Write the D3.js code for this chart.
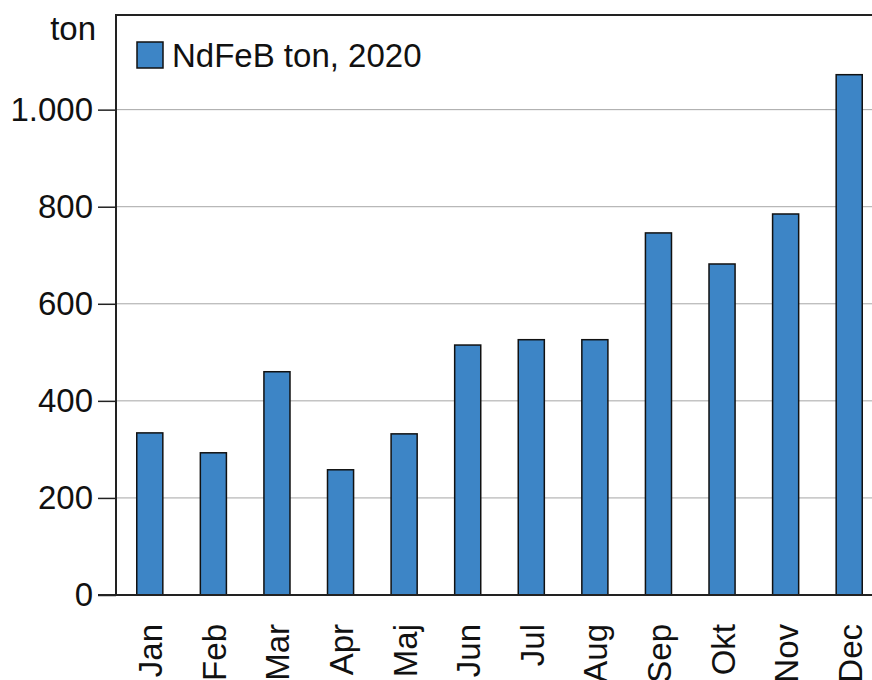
<!DOCTYPE html>
<html lang="da">
<head>
  <meta charset="UTF-8">
  <title>NdFeB ton, 2020</title>
  <script src="https://d3js.org/d3.v7.min.js"></script>
  <style>
    body { margin: 0; background: #fff; }
    svg { display: block; font-family: "Liberation Sans", Arial, sans-serif; }
  </style>
</head>
<body>
<svg width="872" height="680"></svg>
<script>
  const months = ["Jan", "Feb", "Mar", "Apr", "Maj", "Jun", "Jul", "Aug", "Sep", "Okt", "Nov", "Dec"];
  const tons = [334, 293, 460, 258, 332, 515, 526, 526, 746, 682, 785, 1072];
  const yTicks = [0, 200, 400, 600, 800, 1000];

  const svg = d3.select("svg");
  const plotLeft = 116, plotTop = 15, plotBottom = 595, plotRight = 881;
  const fontSize = 33;

  const x = d3.scaleBand()
      .domain(months)
      .range([plotLeft + 2, plotRight])
      .paddingInner(0.59)
      .paddingOuter(0.295);

  const y = d3.scaleLinear()
      .domain([0, 1195])
      .range([plotBottom, plotTop]);

  const fmt = d => d3.format(",")(d).replace(/,/g, ".");

  // grid
  svg.append("g")
    .selectAll("line")
    .data(yTicks.filter(d => d > 0))
    .join("line")
      .attr("x1", plotLeft).attr("x2", plotRight)
      .attr("y1", d => y(d)).attr("y2", d => y(d))
      .attr("stroke", "#a6a6a6")
      .attr("stroke-width", 1);

  // top border
  svg.append("line")
      .attr("x1", plotLeft).attr("x2", plotRight)
      .attr("y1", plotTop).attr("y2", plotTop)
      .attr("stroke", "#222").attr("stroke-width", 2);

  // bars
  svg.append("g")
    .selectAll("rect")
    .data(months.map((m, i) => ({m, v: tons[i]})))
    .join("rect")
      .attr("x", d => x(d.m))
      .attr("y", d => y(d.v))
      .attr("width", x.bandwidth())
      .attr("height", d => y(0) - y(d.v))
      .attr("fill", "#3d85c6")
      .attr("stroke", "#111")
      .attr("stroke-width", 1.5);

  // y axis
  const yAxis = svg.append("g")
      .attr("transform", `translate(${plotLeft},0)`)
      .call(d3.axisLeft(y).tickValues(yTicks).tickFormat(fmt).tickSize(18).tickPadding(5));
  yAxis.select(".domain").remove();
  yAxis.selectAll("line").attr("stroke", "#222").attr("stroke-width", 1.5);
  yAxis.selectAll("text")
      .attr("font-size", fontSize)
      .attr("font-family", "Liberation Sans, Arial, sans-serif")
      .attr("fill", "#111");

  svg.append("line")
      .attr("x1", plotLeft).attr("x2", plotLeft)
      .attr("y1", plotTop - 1).attr("y2", plotBottom)
      .attr("stroke", "#222").attr("stroke-width", 2);

  // x axis baseline
  svg.append("line")
      .attr("x1", plotLeft - 18).attr("x2", plotRight)
      .attr("y1", plotBottom).attr("y2", plotBottom)
      .attr("stroke", "#222").attr("stroke-width", 2);

  // x labels
  svg.append("g")
    .selectAll("text")
    .data(months)
    .join("text")
      .attr("transform", d => `translate(${x(d) + x.bandwidth() / 2 + 12.5},624) rotate(-90)`)
      .attr("text-anchor", "end")
      .attr("font-size", fontSize)
      .attr("fill", "#111")
      .text(d => d);

  // unit label
  svg.append("text")
      .attr("x", 96).attr("y", 40)
      .attr("text-anchor", "end")
      .attr("font-size", fontSize)
      .attr("fill", "#111")
      .text("ton");

  // legend
  svg.append("rect")
      .attr("x", 137).attr("y", 42)
      .attr("width", 26).attr("height", 26)
      .attr("fill", "#3d85c6")
      .attr("stroke", "#111")
      .attr("stroke-width", 1.5);
  svg.append("text")
      .attr("x", 172).attr("y", 67)
      .attr("font-size", fontSize)
      .attr("fill", "#111")
      .text("NdFeB ton, 2020");
</script>
</body>
</html>
